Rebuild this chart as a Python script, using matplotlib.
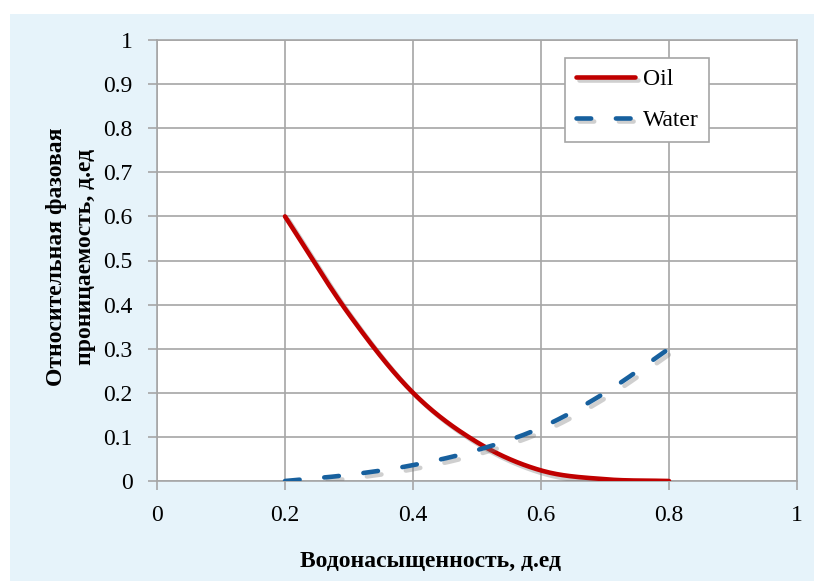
import numpy as np
import matplotlib
matplotlib.use("Agg")
import matplotlib.pyplot as plt
import matplotlib.patheffects as pe
from matplotlib.patches import Rectangle

# Водонасыщенность и ОФП
sw = [0.2, 0.3, 0.4, 0.5, 0.6, 0.7, 0.8]
kro = [0.6, 0.378, 0.2, 0.088, 0.024, 0.004, 0.0]
krw = [0.0, 0.014, 0.036, 0.07, 0.121, 0.2, 0.3]

x_ticks = [0, 0.2, 0.4, 0.6, 0.8, 1]
y_ticks = [0, 0.1, 0.2, 0.3, 0.4, 0.5, 0.6, 0.7, 0.8, 0.9, 1]


def lissage(x, y, n=30):
    # сглаживание как в Excel (Catmull-Rom)
    x = np.asarray(x, float)
    y = np.asarray(y, float)
    px = np.concatenate([[2 * x[0] - x[1]], x, [2 * x[-1] - x[-2]]])
    py = np.concatenate([[2 * y[0] - y[1]], y, [2 * y[-1] - y[-2]]])
    xs, ys = [], []
    t = np.linspace(0, 1, n)
    for i in range(1, len(px) - 2):
        for p, out in ((px, xs), (py, ys)):
            p0, p1, p2, p3 = p[i - 1], p[i], p[i + 1], p[i + 2]
            out.extend(0.5 * ((2 * p1) + (-p0 + p2) * t
                              + (2 * p0 - 5 * p1 + 4 * p2 - p3) * t ** 2
                              + (-p0 + 3 * p1 - 3 * p2 + p3) * t ** 3))
    return xs, ys


fig = plt.figure(figsize=(8.14, 5.81), dpi=100)
plt.rcParams['font.family'] = ['Liberation Serif', 'DejaVu Serif']
fs = 17

# голубая подложка
fig.patches.append(Rectangle((10 / 814, 0), 1, 1 - 14 / 581, transform=fig.transFigure,
                             facecolor="#E6F3FA", edgecolor="none", zorder=-10))

ax = fig.add_axes([157 / 814, 1 - 481 / 581, 640 / 814, 441 / 581])
ax.set_facecolor("white")

ombre = [pe.SimpleLineShadow(offset=(2.5, -2.5), shadow_color="#777777", alpha=0.35),
         pe.Normal()]

xo, yo = lissage(sw, kro)
ax.plot(xo, yo, color="#C00000", lw=3.3, solid_capstyle="round",
        label="Oil", path_effects=ombre, zorder=3)
xw, yw = lissage(sw, krw)
ax.plot(xw, yw, color="#17609E", lw=3.3, dashes=(3.2, 5.4), dash_capstyle="round",
        label="Water", path_effects=ombre, zorder=3)

ax.set_xlim(0, 1)
ax.set_ylim(0, 1)
ax.set_xticks(x_ticks)
ax.set_yticks(y_ticks)
ax.set_xticklabels([f"{v:g}" for v in x_ticks])
ax.set_yticklabels([f"{v:g}" for v in y_ticks])
ax.grid(True, color="#A6A6A6", lw=1.2)
ax.set_axisbelow(True)
for s in ax.spines.values():
    s.set_color("#A6A6A6")
    s.set_linewidth(1.2)
ax.tick_params(direction="out", length=6.5, width=1.2, color="#A6A6A6",
               labelsize=fs, labelcolor="black")
ax.tick_params(axis="x", pad=10.5)
ax.tick_params(axis="y", pad=11)

leg = ax.legend(loc="upper left", bbox_to_anchor=(565 / 814, 1 - 58 / 581),
                bbox_transform=fig.transFigure, borderaxespad=0, fontsize=fs,
                handlelength=2.5, labelspacing=0.82, fancybox=False, framealpha=1,
                edgecolor="#A6A6A6", borderpad=0.45, handletextpad=0.35)
leg.get_frame().set_linewidth(1.2)

fig.text(71 / 814, 1 - 257 / 581, "Относительная фазовая\nпроницаемость, д.ед",
         rotation=90, ha="center", va="center", ma="center",
         fontsize=fs, fontweight="bold", linespacing=1.45)
fig.text(430 / 814, 1 - 561 / 581, "Водонасыщенность, д.ед",
         ha="center", va="center", fontsize=fs, fontweight="bold")

fig.savefig("out.png", dpi=100)
